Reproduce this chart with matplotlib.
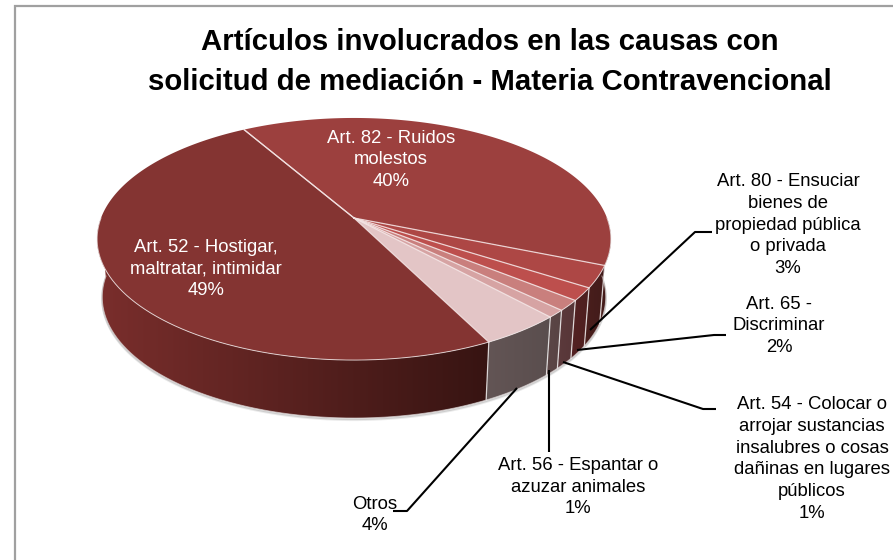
import numpy as np
import matplotlib
matplotlib.use("Agg")
import matplotlib.pyplot as plt
from matplotlib.colors import LinearSegmentedColormap
from matplotlib.patches import Polygon

plt.rcParams['font.family'] = ['Liberation Sans', 'DejaVu Sans']

# === DATA ===
categories = ["Art. 82", "Art. 80", "Art. 65", "Art. 54", "Art. 56", "Otros", "Art. 52"]
values = [39.5, 2.9, 1.7, 1.4, 1.0, 4.4, 49.1]
label_texts = [
    "Art. 82 - Ruidos\nmolestos\n40%",
    "Art. 80 - Ensuciar\nbienes de\npropiedad pública\no privada\n3%",
    "Art. 65 -\nDiscriminar\n2%",
    "Art. 54 - Colocar o\narrojar sustancias\ninsalubres o cosas\ndañinas en lugares\npúblicos\n1%",
    "Art. 56 - Espantar o\nazuzar animales\n1%",
    "Otros\n4%",
    "Art. 52 - Hostigar,\nmaltratar, intimidar\n49%",
]
title_text = "Artículos involucrados en las causas con\nsolicitud de mediación - Materia Contravencional"

# === STYLE ===
top_colors = ["#9c403e", "#ad4745", "#bd4f4d", "#c97f7d", "#d6a3a3", "#e3c5c6", "#843432"]
wall_left = ["#4a1f1d", "#4a1f1d", "#532223", "#5c3a3c", "#5c4646", "#635555", "#7a2e2c"]
wall_right = ["#3a1614", "#421b1a", "#4e1f1f", "#573638", "#584444", "#5a4e4e", "#371412"]

label_pos = [(391, 160), (788, 225), (779, 326), (812, 459), (578, 487), (375, 515), (206, 269)]
label_col = ["white", "black", "black", "black", "black", "black", "white"]
leaders = [
    None,
    [(590, 330), (695, 232), (712, 232)],
    [(577, 350), (714, 335), (726, 335)],
    [(563, 362), (703, 409), (716, 409)],
    [(549, 370), (549, 452)],
    [(517, 388), (407, 511), (393, 511)],
    None,
]

# pie projection, circle -> screen pixels
CX, CY = 354, 218
KX, KY, PERSP = 253.0, 117.4, 0.1736
DEPTH = 58
BOTTOM_SCALE = 0.98
START = 120.0


def project(ang_deg, r=1.0, bottom=False):
    a = np.radians(ang_deg)
    u = r * np.cos(a)
    v = r * np.sin(a)
    den = 1 + PERSP * v
    x = KX * u / den
    y = CY - KY * v / den
    if bottom:
        return CX + x * BOTTOM_SCALE, y + DEPTH
    return CX + x, y


fig = plt.figure(figsize=(8.93, 5.6), dpi=100)
ax = fig.add_axes([0, 0, 1, 1])
ax.set_xlim(0, 893)
ax.set_ylim(560, 0)
ax.axis("off")

# chart frame, runs off the image on the right and at the bottom
ax.plot([14.5, 14.5, 893], [560, 5.5, 5.5], color="#a0a0a0", lw=1.6, solid_joinstyle="miter")

ax.text(490, 62, title_text, ha="center", va="center", fontsize=21.15, fontweight="bold",
        linespacing=1.5, color="black")

# slice angles from the values (clockwise)
fractions = np.array(values) / np.sum(values)
edges = START - np.concatenate([[0], np.cumsum(fractions)]) * 360

# soft shadow under the pie
shadow_ang = np.linspace(180, 360, 120)
for grow, alpha in [(2, 0.08), (1, 0.12)]:
    xs, ys = project(shadow_ang, bottom=True)
    ax.plot(xs, ys + grow, color="black", lw=1.5, alpha=alpha, zorder=1)

# walls, only the front part of the rim shows
for i in range(len(values)):
    a0, a1 = edges[i + 1], edges[i]
    ang = np.linspace(a0, a1, 200)
    ang = ang[(np.mod(ang, 360) >= 180)]
    if len(ang) == 0:
        continue
    xt, yt = project(ang)
    xb, yb = project(ang, bottom=True)
    pts = np.column_stack([np.r_[xt, xb[::-1]], np.r_[yt, yb[::-1]]])
    poly = Polygon(pts, closed=True, fc="none", ec="none", zorder=2)
    ax.add_patch(poly)
    cmap = LinearSegmentedColormap.from_list("w", [wall_left[i], wall_right[i]])
    im = ax.imshow(np.linspace(0, 1, 256).reshape(1, -1), cmap=cmap, aspect="auto",
                   extent=[pts[:, 0].min(), pts[:, 0].max(), pts[:, 1].max(), pts[:, 1].min()],
                   zorder=2)
    im.set_clip_path(poly)
ax.set_xlim(0, 893)
ax.set_ylim(560, 0)

# wall edges between the slices
for e in edges:
    if np.mod(e, 360) >= 180:
        x0, y0 = project(e)
        x1, y1 = project(e, bottom=True)
        ax.plot([x0, x1], [y0, y1], color="white", lw=0.9, alpha=0.75, zorder=3)

# rim highlight along bottom of wall
ang = np.linspace(180, 360, 200)
xb, yb = project(ang, bottom=True)
ax.plot(xb, yb, color="#d8d0d0", lw=0.7, alpha=0.7, zorder=3)

# top face
for i in range(len(values)):
    ang = np.linspace(edges[i], edges[i + 1], 200)
    xt, yt = project(ang)
    pts = np.column_stack([np.r_[CX, xt], np.r_[CY, yt]])
    ax.add_patch(Polygon(pts, closed=True, fc=top_colors[i], ec="none", zorder=4))
for e in edges:
    x0, y0 = project(e)
    ax.plot([CX, x0], [CY, y0], color="#f4e4e4", lw=0.9, alpha=0.85, zorder=5)
ang = np.linspace(180, 360, 200)
xt, yt = project(ang)
ax.plot(xt, yt, color="#f0e8e8", lw=0.7, alpha=0.8, zorder=5)

# labels
for i, txt in enumerate(label_texts):
    ax.text(label_pos[i][0], label_pos[i][1], txt, ha="center", va="center",
            fontsize=13.3, color=label_col[i], linespacing=1.38, zorder=7)
    if leaders[i] is not None:
        lx, ly = zip(*leaders[i])
        ax.plot(lx, ly, color="black", lw=1.5, zorder=6, solid_capstyle="butt")

fig.savefig("out.png", dpi=100)
